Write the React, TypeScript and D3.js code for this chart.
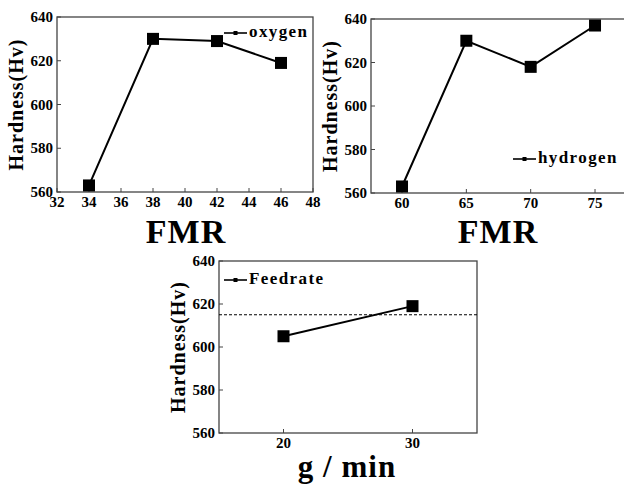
import React from "react";
import * as d3 from "d3";

// oxygen FMR series
const oxygenFmr = [34, 38, 42, 46];
const oxygenHardness = [563, 630, 629, 619];
const oxygenTicks = [32, 34, 36, 38, 40, 42, 44, 46, 48];

// hydrogen FMR series
const hydrogenFmr = [60, 65, 70, 75];
const hydrogenHardness = [563, 630, 618, 637];
const hydrogenTicks = [60, 65, 70, 75];

// feedrate series
const feedrate = [20, 30];
const feedHardness = [605, 619];
const feedTicks = [20, 30];
const feedRef = 615;

const hardnessTicks = [560, 580, 600, 620, 640];

const FONT = "'Liberation Serif', 'Times New Roman', serif";

type PanelProps = {
  box: { left: number; top: number; right: number; bottom: number };
  xDomain: [number, number];
  xs: number[];
  ys: number[];
  xTicks: number[];
  legend: string;
  legendPos: [number, number];
  yLabelX: number;
  xLabel: string;
  xLabelPos: [number, number];
  xLabelSize: number;
  refLine?: number;
};

const Panel = (p: PanelProps) => {
  const { left, top, right, bottom } = p.box;
  const x = d3.scaleLinear().domain(p.xDomain).range([left, right]);
  const y = d3.scaleLinear().domain([560, 640]).range([bottom, top]);
  const pts = p.xs.map((v, i) => [x(v), y(p.ys[i])] as [number, number]);
  const line = d3.line();
  const [lx, ly] = p.legendPos;
  return (
    <g>
      <rect x={left} y={top} width={right - left} height={bottom - top}
        fill="none" stroke="#444" strokeWidth={1.3} />
      {p.xTicks.map((t) => (
        <g key={"x" + t}>
          <line x1={x(t)} x2={x(t)} y1={bottom} y2={bottom - 4} stroke="#444" />
          <text x={x(t)} y={bottom + 15} textAnchor="middle" fontSize={15}
            fontWeight="bold" fontFamily={FONT}>{t}</text>
        </g>
      ))}
      {hardnessTicks.map((t) => (
        <g key={"y" + t}>
          <line x1={left} x2={left + 4} y1={y(t)} y2={y(t)} stroke="#444" />
          <text x={left - 4} y={y(t) + 5} textAnchor="end" fontSize={15}
            fontWeight="bold" fontFamily={FONT}>{t}</text>
        </g>
      ))}
      {p.refLine !== undefined && (
        <line x1={left} x2={right} y1={y(p.refLine)} y2={y(p.refLine)}
          stroke="#000" strokeWidth={1} strokeDasharray="3,2" />
      )}
      <path d={line(pts) || ""} fill="none" stroke="#000" strokeWidth={2} />
      {pts.map(([cx, cy], i) => (
        <rect key={i} x={cx - 6} y={cy - 6} width={12} height={12} fill="#000" />
      ))}
      <line x1={lx} x2={lx + 23} y1={ly} y2={ly} stroke="#000" strokeWidth={1.6} />
      <rect x={lx + 9.5} y={ly - 2} width={4} height={4} fill="#000" />
      <text x={lx + 25} y={ly + 4} fontSize={17} fontWeight="bold" letterSpacing={1.4}
        fontFamily={FONT}>{p.legend}</text>
      <text transform={`translate(${p.yLabelX},${(top + bottom) / 2}) rotate(-90)`}
        textAnchor="middle" fontSize={20} fontWeight="bold" letterSpacing={1}
        fontFamily={FONT}>Hardness(Hv)</text>
      <text x={p.xLabelPos[0]} y={p.xLabelPos[1]} textAnchor="middle"
        fontSize={p.xLabelSize} fontWeight="bold" letterSpacing={1} fontFamily={FONT}>
        {p.xLabel}
      </text>
    </g>
  );
};

export default function App() {
  return (
    <svg width={624} height={488} style={{ position: "absolute", left: 0, top: 0 }}>
      <rect width={624} height={488} fill="#fff" />
      <Panel box={{ left: 57, top: 17, right: 313, bottom: 192 }} xDomain={[32, 48]}
        xs={oxygenFmr} ys={oxygenHardness} xTicks={oxygenTicks}
        legend="oxygen" legendPos={[224, 33]} yLabelX={23}
        xLabel="FMR" xLabelPos={[186, 243]} xLabelSize={34} />
      <Panel box={{ left: 371, top: 19, right: 625, bottom: 193 }} xDomain={[57.59, 77.33]}
        xs={hydrogenFmr} ys={hydrogenHardness} xTicks={hydrogenTicks}
        legend="hydrogen" legendPos={[513, 159]} yLabelX={337}
        xLabel="FMR" xLabelPos={[498, 243]} xLabelSize={34} />
      <Panel box={{ left: 219, top: 261, right: 477, bottom: 433 }} xDomain={[15, 35]}
        xs={feedrate} ys={feedHardness} xTicks={feedTicks}
        legend="Feedrate" legendPos={[224, 280]} yLabelX={185}
        xLabel="g / min" xLabelPos={[347, 477]} xLabelSize={31} refLine={feedRef} />
    </svg>
  );
}
